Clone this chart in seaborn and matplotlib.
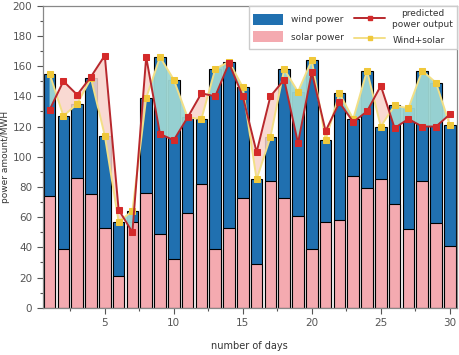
import numpy as np
import pandas as pd
import matplotlib
matplotlib.use("Agg")
import matplotlib.pyplot as plt
import seaborn as sns
from matplotlib.patches import Patch
from matplotlib.lines import Line2D
from matplotlib.ticker import MultipleLocator

days = list(range(1, 31))
solar = [74, 39, 86, 75, 53, 21, 57, 76, 49, 32, 63, 82, 39, 53, 73,
         29, 84, 73, 61, 39, 57, 58, 87, 79, 85, 69, 52, 84, 56, 41]
total = [155, 127, 135, 152, 114, 57, 64, 139, 166, 151, 126, 125, 158, 163, 146,
         85, 113, 158, 143, 164, 111, 142, 125, 157, 120, 134, 132, 157, 149, 121]
predicted = [131, 150, 141, 153, 167, 65, 50, 166, 115, 111, 126, 142, 140, 162, 140,
             103, 140, 151, 109, 156, 117, 136, 123, 130, 147, 119, 125, 120, 120, 128]
legend_labels = ["wind power", "solar power", "predicted\npower output", "Wind+solar"]

blue = "#2070b0"
pink = "#f4aab0"
teal = "#9dd6d3"
pinkfill = "#f8d3cb"
red_line = "#b8282d"
red_mark = "#d42a2a"
yel_line = "#f3df86"
yel_mark = "#f0c83a"

sns.set_theme(style="white")
plt.rcParams["font.family"] = ["DejaVu Sans"]

fig, ax = plt.subplots(figsize=(4.59, 3.55), dpi=100)
fig.subplots_adjust(left=0.093, right=0.995, top=0.984, bottom=0.133)

df = pd.DataFrame({"day": days, "solar": solar, "total": total, "pred": predicted})

sns.barplot(data=df, x="day", y="total", native_scale=True, color=blue, saturation=1,
            edgecolor="black", linewidth=0.8, width=0.85, errorbar=None, ax=ax, zorder=1)
sns.barplot(data=df, x="day", y="solar", native_scale=True, color=pink, saturation=1,
            edgecolor="black", linewidth=0.8, width=0.85, errorbar=None, ax=ax, zorder=1)

t = np.array(total, dtype=float)
p = np.array(predicted, dtype=float)
ax.fill_between(df["day"], t, p, where=t >= p, interpolate=True, color=teal,
                alpha=0.95, lw=0, zorder=3)
ax.fill_between(df["day"], t, p, where=p > t, interpolate=True, color=pinkfill,
                alpha=0.85, lw=0, zorder=3)

sns.lineplot(data=df, x="day", y="total", color=yel_line, lw=1.4, marker="s", markersize=4,
             markerfacecolor=yel_mark, markeredgecolor=yel_mark, ax=ax, zorder=4)
sns.lineplot(data=df, x="day", y="pred", color=red_line, lw=1.4, marker="s", markersize=4,
             markerfacecolor=red_mark, markeredgecolor=red_mark, ax=ax, zorder=5)

ax.set_xlim(0.5, 30.5)
ax.set_ylim(0, 200)
ax.set_xticks([5, 10, 15, 20, 25, 30])
ax.xaxis.set_minor_locator(MultipleLocator(2.5))
ax.yaxis.set_major_locator(MultipleLocator(20))
ax.yaxis.set_minor_locator(MultipleLocator(10))
ax.tick_params(axis="both", which="both", direction="out", bottom=True, left=True,
               labelsize=7.5, labelcolor="#555555", color="#555555", width=0.8)
ax.tick_params(which="major", length=4)
ax.tick_params(which="minor", length=2)
for s in ax.spines.values():
    s.set_color("#888888")
    s.set_linewidth(0.9)

ax.set_xlabel("number of days", fontsize=7, color="#333333", labelpad=9)
ax.set_ylabel("power amount/MWH", fontsize=6.5, color="#333333", labelpad=2)

handles = [Patch(facecolor=blue, edgecolor="none"),
           Patch(facecolor=pink, edgecolor="none"),
           Line2D([], [], color=red_line, lw=1.4, marker="s", markersize=3,
                  markerfacecolor=red_mark, markeredgecolor=red_mark),
           Line2D([], [], color=yel_line, lw=1.4, marker="s", markersize=3,
                  markerfacecolor=yel_mark, markeredgecolor=yel_mark)]
leg = ax.legend(handles, legend_labels, loc="upper right", bbox_to_anchor=(1, 1),
                borderaxespad=0, ncol=2, fontsize=6.5, frameon=True, fancybox=False,
                edgecolor="#cccccc", framealpha=1, handlelength=3.4, handleheight=1.6,
                columnspacing=1.2, labelspacing=0.6)
leg.set_zorder(10)
for txt in leg.get_texts():
    txt.set_multialignment("center")
    txt.set_color("#333333")

fig.savefig("out.png", dpi=100)
